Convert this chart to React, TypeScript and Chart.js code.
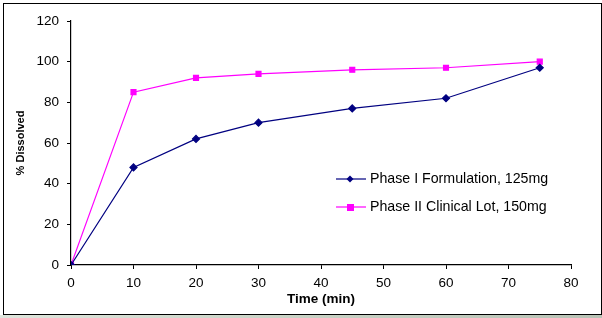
import React, { useEffect, useRef } from "react";
import { Chart, registerables } from "chart.js";

Chart.register(...registerables);

// Sampling times (min)
const timePoints = [0, 10, 20, 30, 45, 60, 75];
// % dissolved per lot
const phaseOneValues = [0, 48, 62, 70, 77, 82, 97];
const phaseTwoValues = [0, 85, 92, 94, 96, 97, 100];

const seriesLabels = ["Phase I Formulation, 125mg", "Phase II Clinical Lot, 150mg"];
const xTitle = "Time (min)";
const yTitle = "% Dissolved";

const FONT = "'Liberation Sans', Arial, sans-serif";
const W = 602;
const H = 318;

// Fixed plot rectangle
const AREA = { left: 71, right: 571, top: 21, bottom: 265 };

const insideLegend = {
  id: "insideLegend",
  afterDraw(chart: any) {
    const ctx = chart.ctx;
    const rows = [179, 207];
    chart.data.datasets.forEach((ds: any, i: number) => {
      const y = rows[i];
      ctx.save();
      ctx.strokeStyle = ds.borderColor;
      ctx.lineWidth = 1.2;
      ctx.beginPath();
      ctx.moveTo(336, y);
      ctx.lineTo(366, y);
      ctx.stroke();
      ctx.fillStyle = ds.pointBackgroundColor;
      ctx.beginPath();
      if (ds.pointStyle === "rectRot") {
        const r = 3.5;
        ctx.moveTo(350, y - r);
        ctx.lineTo(350 + r, y);
        ctx.lineTo(350, y + r);
        ctx.lineTo(350 - r, y);
        ctx.closePath();
      } else {
        ctx.rect(347, y - 3, 7, 7);
      }
      ctx.fill();
      ctx.fillStyle = "#000";
      ctx.font = `14.2px ${FONT}`;
      ctx.textBaseline = "middle";
      ctx.textAlign = "left";
      ctx.fillText(seriesLabels[i], 370, y);
      ctx.restore();
    });
  },
};

export default function App() {
  const canvasRef = useRef<HTMLCanvasElement | null>(null);

  useEffect(() => {
    document.body.style.margin = "0";
    const canvas = canvasRef.current;
    if (!canvas) return;
    const toXY = (vals: number[]) => timePoints.map((t, i) => ({ x: t, y: vals[i] }));

    const chart = new Chart(canvas, {
      type: "line",
      data: {
        datasets: [
          {
            label: seriesLabels[0],
            data: toXY(phaseOneValues),
            borderColor: "#000080",
            backgroundColor: "#000080",
            pointBackgroundColor: "#000080",
            pointBorderColor: "#000080",
            pointStyle: "rectRot",
            pointRadius: 3.5,
            borderWidth: 1.2,
            tension: 0,
          },
          {
            label: seriesLabels[1],
            data: toXY(phaseTwoValues),
            borderColor: "#ff00ff",
            backgroundColor: "#ff00ff",
            pointBackgroundColor: "#ff00ff",
            pointBorderColor: "#ff00ff",
            pointStyle: "rect",
            pointRadius: 3.5,
            borderWidth: 1.2,
            tension: 0,
          },
        ],
      },
      options: {
        responsive: false,
        animation: false,
        events: [],
        layout: {
          padding: { left: 7, top: AREA.top, right: W - AREA.right, bottom: 0 },
        },
        plugins: {
          legend: { display: false },
          tooltip: { enabled: false },
        },
        scales: {
          x: {
            type: "linear",
            min: 0,
            max: 80,
            border: { color: "#000", width: 1.2 },
            grid: { drawOnChartArea: false, color: "#000", tickLength: 4 },
            ticks: {
              stepSize: 10,
              color: "#000",
              padding: 6,
              font: { family: FONT, size: 13.5 },
            },
            title: {
              display: true,
              text: xTitle,
              color: "#000",
              font: { family: FONT, size: 13.5, weight: "bold" },
              padding: { top: 1, bottom: 11 },
            },
            afterFit(scale: any) {
              scale.height = H - AREA.bottom;
            },
          },
          y: {
            type: "linear",
            min: 0,
            max: 120,
            border: { color: "#000", width: 1.2 },
            grid: { drawOnChartArea: false, color: "#000", tickLength: 4 },
            ticks: {
              stepSize: 20,
              color: "#000",
              padding: 8,
              font: { family: FONT, size: 13.5 },
            },
            title: {
              display: true,
              text: yTitle,
              color: "#000",
              font: { family: FONT, size: 11, weight: "bold" },
              padding: { top: 7, bottom: 0 },
            },
            afterFit(scale: any) {
              scale.width = AREA.left - 7;
            },
          },
        },
      } as any,
      plugins: [insideLegend],
    });
    return () => chart.destroy();
  }, []);

  return (
    <div style={{ position: "relative", width: W, height: H, background: "#fff", overflow: "hidden" }}>
      <div
        style={{
          position: "absolute",
          left: 0,
          top: 315,
          width: W,
          height: 3,
          background: "linear-gradient(90deg, #dfe5dc, #c9d2c5 50%, #b9c3b6)",
        }}
      />
      <div
        style={{
          position: "absolute",
          left: 3,
          top: 3,
          width: 597,
          height: 310,
          border: "1.5px solid #000",
          background: "#fff",
        }}
      />
      <canvas
        ref={canvasRef}
        width={W}
        height={H}
        style={{ position: "absolute", left: 0, top: 0, width: W, height: H }}
      />
    </div>
  );
}
